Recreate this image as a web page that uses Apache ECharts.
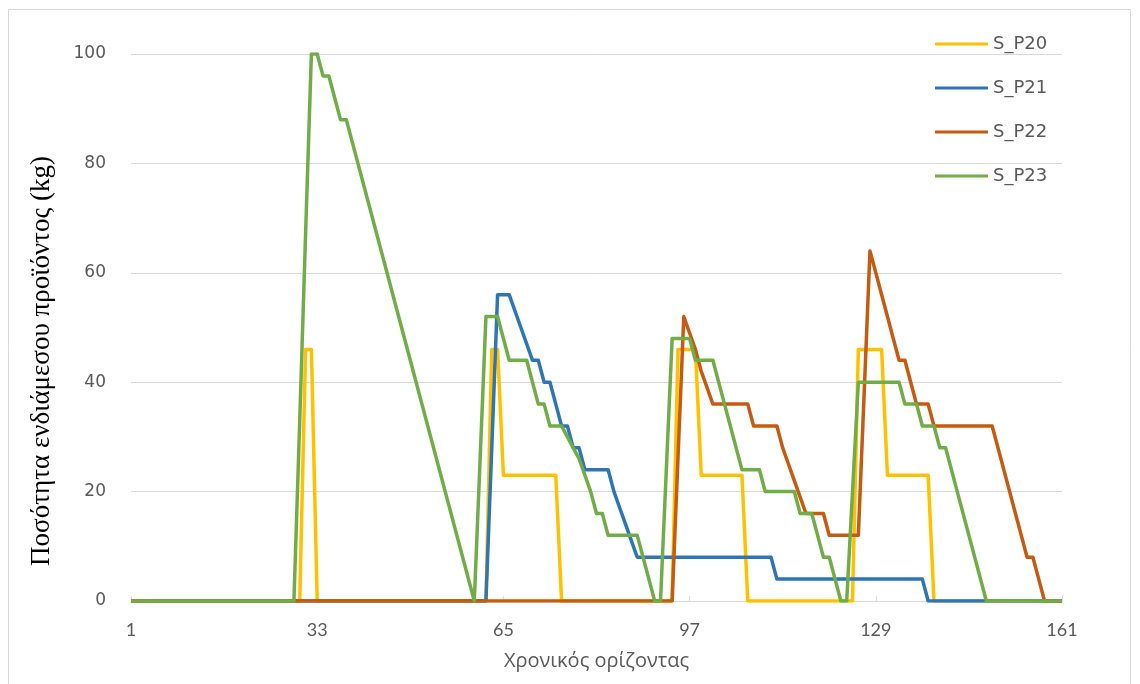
<!DOCTYPE html>
<html>
<head>
<meta charset="utf-8">
<title>S_P20 – S_P23</title>
<script src="https://cdn.jsdelivr.net/npm/echarts@6/dist/echarts.min.js"></script>
<style>
  html, body { margin: 0; padding: 0; background: #ffffff; }
  #chart { width: 1140px; height: 684px; }
</style>
</head>
<body>
<div id="chart"></div>
<script>
// Time periods 1..161 on the horizontal axis
const periods = [];
for (let p = 1; p <= 161; p++) periods.push(String(p));

const yTicks = [0, 20, 40, 60, 80, 100];

const seriesNames = ['S_P20', 'S_P21', 'S_P22', 'S_P23'];
const seriesColors = ['#FFC000', '#2E75B6', '#C55A11', '#70AD47'];

// Intermediate product quantity (kg) per period
const sP20 = [
  0,0,0,0,0,0,0,0,0,0, 0,0,0,0,0,0,0,0,0,0, 0,0,0,0,0,0,0,0,0,0,
  46,46,
  0,0,0,0,0,0,0,0,0,0, 0,0,0,0,0,0,0,0,0,0, 0,0,0,0,0,0,0,0,0,0,
  46,46,
  23,23,23,23,23,23,23,23,23,23,
  0,0,0,0,0,0,0,0,0,0, 0,0,0,0,0,0,0,0,0,0,
  46,46,46,46,
  23,23,23,23,23,23,23,23,
  0,0,0,0,0,0,0,0,0,0, 0,0,0,0,0,0,0,0,0,
  46,46,46,46,46,
  23,23,23,23,23,23,23,23,
  0,0,0,0,0,0,0,0,0,0, 0,0,0,0,0,0,0,0,0,0, 0,0,0
];

const sP21 = [
  0,0,0,0,0,0,0,0,0,0, 0,0,0,0,0,0,0,0,0,0, 0,0,0,0,0,0,0,0,0,0,
  0,0,0,0,0,0,0,0,0,0, 0,0,0,0,0,0,0,0,0,0, 0,0,0,0,0,0,0,0,0,0,
  0,0,
  28,
  56,56,56,
  53,50,47,44,44,
  40,40,36,32,32,28,28,
  24,24,24,24,24,
  20,17,14,11,
  8,8,8,8,8,8,8,8,8,8, 8,8,8,8,8,8,8,8,8,8, 8,8,8,8,
  4,4,4,4,4,4,4,4,4,4, 4,4,4,4,4,4,4,4,4,4, 4,4,4,4,4,4,
  0,0,0,0,0,0,0,0,0,0, 0,0,0,0,0,0,0,0,0,0, 0,0,0,0
];

const sP22 = [
  0,0,0,0,0,0,0,0,0,0, 0,0,0,0,0,0,0,0,0,0, 0,0,0,0,0,0,0,0,0,0,
  0,0,0,0,0,0,0,0,0,0, 0,0,0,0,0,0,0,0,0,0, 0,0,0,0,0,0,0,0,0,0,
  0,0,0,0,0,0,0,0,0,0, 0,0,0,0,0,0,0,0,0,0, 0,0,0,0,0,0,0,0,0,0,
  0,0,0,0,
  26,52,49,46,42,39,
  36,36,36,36,36,36,36,
  32,32,32,32,32,
  28,25,22,19,
  16,16,16,16,
  12,12,12,12,12,12,
  38,64,60,56,52,48,
  44,44,
  40,
  36,36,36,
  32,32,32,32,32,32,32,32,32,32,32,
  28,24,20,16,12,
  8,8,
  4,
  0,0,0,0
];

const sP23 = [
  0,0,0,0,0,0,0,0,0,0, 0,0,0,0,0,0,0,0,0,0, 0,0,0,0,0,0,0,0,0,
  33,67,100,100,
  96,96,92,88,88,
  84,80,76,72,68,64,60,56,52,48,44,40,36,32,28,24,20,16,12,8,4,
  0,
  26,52,52,52,48,
  44,44,44,44,
  40,36,36,
  32,32,32,
  30,28,26,23,20,16,16,
  12,12,12,12,12,12,
  8,4,0,0,
  24,
  48,48,48,48,
  44,44,44,44,
  40,36,32,28,
  24,24,24,24,
  20,20,20,20,20,20,
  16,16,16,
  12,8,8,4,0,0,
  20,
  40,40,40,40,40,40,40,40,
  36,36,36,
  32,32,32,
  28,28,
  24,20,16,12,8,4,
  0,0,0,0,0,0,0,0,0,0, 0,0,0,0
];

const seriesData = [sP20, sP21, sP22, sP23];

const chart = echarts.init(document.getElementById('chart'), null, { renderer: 'canvas' });

const option = {
  animation: false,
  backgroundColor: '#ffffff',
  grid: { left: 131, right: 78, top: 54, bottom: 83, containLabel: false },
  legend: {
    orient: 'vertical',
    left: 930,
    top: 30,
    icon: 'rect',
    itemWidth: 53,
    itemHeight: 3,
    itemGap: 26,
    data: seriesNames,
    textStyle: { fontFamily: 'DejaVu Sans', fontSize: 18, color: '#595959', lineHeight: 18 }
  },
  xAxis: {
    type: 'category',
    data: periods,
    boundaryGap: false,
    name: 'Χρονικός ορίζοντας',
    nameLocation: 'middle',
    nameGap: 50,
    nameTextStyle: { fontFamily: 'Open Sans', fontSize: 20, color: '#595959' },
    axisLine: { lineStyle: { color: '#d9d9d9', width: 1 } },
    axisTick: { show: true, inside: true, length: 5, interval: 31, lineStyle: { color: '#d9d9d9' } },
    axisLabel: {
      interval: 31,
      margin: 20,
      fontFamily: 'Lato',
      fontSize: 18,
      color: '#595959'
    },
    splitLine: { show: false }
  },
  yAxis: {
    type: 'value',
    min: yTicks[0],
    max: yTicks[yTicks.length - 1],
    interval: yTicks[1] - yTicks[0],
    axisLine: { show: false },
    axisTick: { show: false },
    axisLabel: { margin: 25, fontFamily: 'DejaVu Sans', fontSize: 17, color: '#595959' },
    splitLine: { lineStyle: { color: '#d9d9d9', width: 1 } }
  },
  graphic: [
    {
      type: 'rect',
      shape: { x: 8.5, y: 9.5, width: 1122, height: 700 },
      style: { fill: 'none', stroke: '#d9d9d9', lineWidth: 1 },
      silent: true
    },
    {
      type: 'text',
      x: 42,
      y: 361,
      rotation: Math.PI / 2,
      style: {
        text: 'Ποσότητα ενδιάμεσου προϊόντος (kg)',
        fontFamily: 'Liberation Serif',
        fontSize: 27,
        fill: '#000000',
        textAlign: 'center',
        textVerticalAlign: 'middle'
      },
      silent: true
    }
  ],
  series: seriesNames.map((name, k) => ({
    name: name,
    type: 'line',
    data: seriesData[k],
    showSymbol: false,
    symbol: 'none',
    lineStyle: { color: seriesColors[k], width: 3.5, join: 'round' },
    itemStyle: { color: seriesColors[k] }
  }))
};

chart.setOption(option);
</script>
</body>
</html>
